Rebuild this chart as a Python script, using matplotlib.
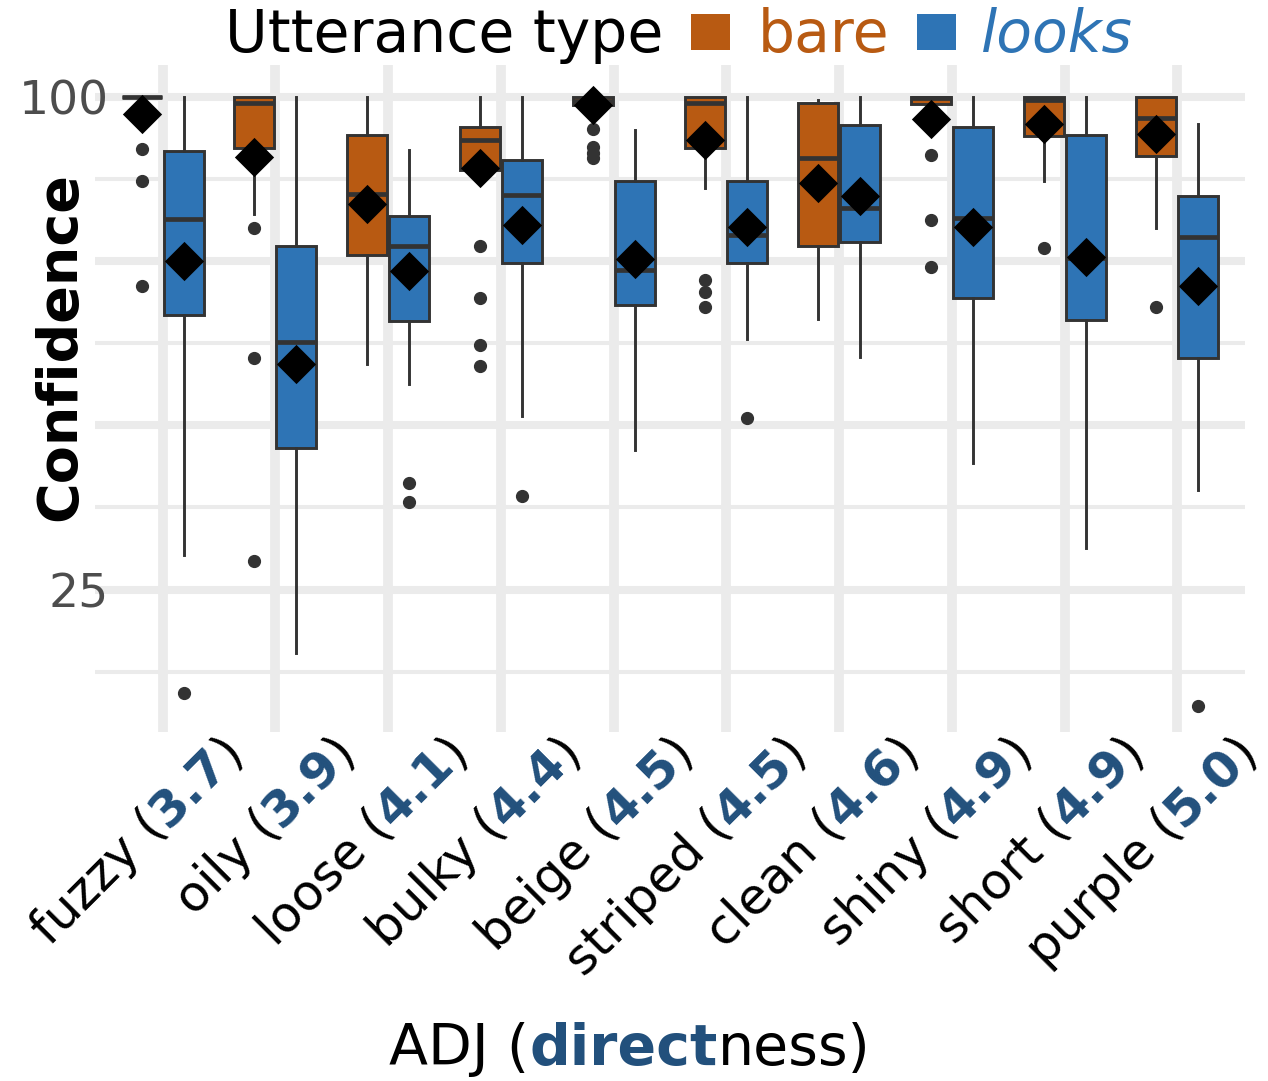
import matplotlib
matplotlib.use('Agg')
import matplotlib.pyplot as plt
from matplotlib.transforms import IdentityTransform
from matplotlib.patches import Rectangle
import numpy as np

# ---------------- data ----------------
categories = ['fuzzy', 'oily', 'loose', 'bulky', 'beige', 'striped', 'clean', 'shiny', 'short', 'purple']
directness = ['3.7', '3.9', '4.1', '4.4', '4.5', '4.5', '4.6', '4.9', '4.9', '5.0']

bare_whislo = [100, 82.2, 59.3, 88.9, 98.8, 86.1, 66.2, 98.9, 87.2, 80.0]
bare_q1     = [100, 92.2, 75.9, 88.9, 98.8, 92.2, 77.3, 98.9, 94.1, 91.0]
bare_med    = [100, 99.1, 85.2, 93.4, 99.4, 99.1, 90.7, 99.8, 99.5, 96.8]
bare_q3     = [100, 100, 94.2, 95.4, 100, 100, 99.1, 100, 100, 100]
bare_whishi = [100, 100, 100, 100, 100, 100, 99.5, 100, 100, 100]
bare_mean   = [97.4, 90.9, 83.7, 89.2, 98.8, 93.4, 87.0, 96.6, 95.9, 94.4]
bare_fliers = [[92.1, 87.2, 71.2], [80.0, 60.2, 29.3], [], [77.3, 69.4, 62.2, 59.1],
               [95.1, 92.4, 91.5, 90.7], [72.1, 70.3, 68.1], [], [91.2, 81.3, 74.1],
               [77.1], [68.1]]

looks_whislo = [30.3, 15.4, 56.3, 51.4, 46.2, 63.1, 60.4, 44.2, 31.3, 40.2]
looks_q1     = [66.8, 46.6, 65.9, 74.7, 68.3, 74.8, 77.9, 69.4, 66.0, 60.2]
looks_med    = [81.4, 62.7, 77.3, 85.1, 73.6, 79.0, 83.1, 81.6, 75.5, 78.7]
looks_q3     = [91.8, 77.4, 81.9, 90.4, 87.3, 87.3, 95.7, 95.4, 94.2, 84.9]
looks_whishi = [100, 100, 91.9, 100, 95.0, 100, 100, 100, 100, 95.9]
looks_mean   = [75.0, 59.3, 73.5, 80.6, 75.3, 80.2, 84.9, 80.2, 75.6, 71.2]
looks_fliers = [[9.3], [], [41.3, 38.3], [39.3], [], [51.2], [], [], [], [7.2]]

# ---------------- style ----------------
W, H, DPI = 1268, 1081, 100
BARE_C = '#B85A12'
LOOKS_C = '#2E74B5'
DIR_C = '#22507C'
EDGE_C = '#333333'
GRID_C = '#EBEBEB'
FONT = ['DejaVu Sans']
plt.rcParams['font.family'] = FONT

fig = plt.figure(figsize=(W / DPI, H / DPI), dpi=DPI)
fig.patch.set_facecolor('white')
L, R, T, B = 95, 1245, 65, 732
ax = fig.add_axes([L / W, 1 - B / H, (R - L) / W, (B - T) / H])
ax.set_facecolor('white')
ax.set_xlim(0.4, 10.6)
ax.set_ylim(3.3, 104.9)

ax.set_yticks([25, 50, 75, 100])
ax.set_yticks([12.5, 37.5, 62.5, 87.5], minor=True)
ax.set_yticklabels(['25', '', '', '100'])
ax.set_xticks(np.arange(1, 11))
ax.set_xticklabels([''] * 10)
ax.grid(which='major', axis='y', color=GRID_C, lw=5.8)
ax.grid(which='minor', axis='y', color=GRID_C, lw=2.9)
ax.grid(which='major', axis='x', color=GRID_C, lw=7.0)
ax.set_axisbelow(True)
for s in ax.spines.values():
    s.set_visible(False)
ax.tick_params(which='both', length=0)
ax.tick_params(axis='y', labelsize=34, labelcolor='#4D4D4D', pad=-10)

pos = np.arange(1, 11)
off = 0.186
bw = 0.355

def make_stats(wlo, q1, med, q3, whi, fl):
    return [dict(whislo=a, q1=b, med=c, q3=d, whishi=e, fliers=f)
            for a, b, c, d, e, f in zip(wlo, q1, med, q3, whi, fl)]

common = dict(widths=bw, patch_artist=True, showcaps=False, manage_ticks=False,
              whiskerprops=dict(color=EDGE_C, lw=2.1),
              medianprops=dict(color=EDGE_C, lw=3.4, solid_capstyle='butt'),
              flierprops=dict(marker='o', markersize=8.5, markerfacecolor=EDGE_C,
                              markeredgecolor=EDGE_C))
ax.bxp(make_stats(bare_whislo, bare_q1, bare_med, bare_q3, bare_whishi, bare_fliers),
       positions=pos - off, boxprops=dict(facecolor=BARE_C, edgecolor=EDGE_C, lw=2.1), **common)
ax.bxp(make_stats(looks_whislo, looks_q1, looks_med, looks_q3, looks_whishi, looks_fliers),
       positions=pos + off, boxprops=dict(facecolor=LOOKS_C, edgecolor=EDGE_C, lw=2.1), **common)
ax.scatter(pos - off, bare_mean, marker='D', s=400, color='black', zorder=6, linewidths=0)
ax.scatter(pos + off, looks_mean, marker='D', s=400, color='black', zorder=6, linewidths=0)

# ---------------- text helpers ----------------
fig.canvas.draw()
renderer = fig.canvas.get_renderer()

def text_width(s, **kw):
    t = fig.text(0, 0, s + '|', **kw)
    w1 = t.get_window_extent(renderer).width
    t.set_text('|')
    w2 = t.get_window_extent(renderer).width
    t.remove()
    return w1 - w2

def pieces_right(pieces, x, y, rot):
    c, s = np.cos(np.radians(rot)), np.sin(np.radians(rot))
    d = 0.0
    for txt, kw in reversed(pieces):
        fig.text(x - d * c, y - d * s, txt, transform=IdentityTransform(), rotation=rot,
                 rotation_mode='anchor', ha='right', va='baseline', **kw)
        d += text_width(txt, **kw)

def pieces_left(pieces, x, y):
    d = 0.0
    for txt, kw in pieces:
        fig.text(x + d, y, txt, transform=IdentityTransform(), ha='left', va='baseline', **kw)
        d += text_width(txt, **kw)
    return d

def pieces_total(pieces):
    return sum(text_width(t, **kw) for t, kw in pieces)

# x tick labels
TK = 36
for i, (cat, dv) in enumerate(zip(categories, directness)):
    xc = ax.transData.transform((pos[i], 0))[0]
    pieces = [(cat + ' (', dict(fontsize=TK, color='black')),
              (dv, dict(fontsize=TK, color=DIR_C, fontweight='bold')),
              (')', dict(fontsize=TK, color='black'))]
    pieces_right(pieces, xc + 82, H - 753, 45)

# x axis title
XT = 41
xt_pieces = [('ADJ (', dict(fontsize=XT, color='black')),
             ('direct', dict(fontsize=XT, color=DIR_C, fontweight='bold')),
             ('ness)', dict(fontsize=XT, color='black'))]
tw = pieces_total(xt_pieces)
pieces_left(xt_pieces, 630 - tw / 2, H - 1065)

# y axis title
fig.text(60, H - 347, 'Confidence', transform=IdentityTransform(), rotation=90,
         ha='center', va='center', fontsize=40, fontweight='bold', color='black')

# legend
LG = 42
y_base = H - 52
x0 = 225
w = pieces_left([('Utterance type', dict(fontsize=LG, color='black'))], x0, y_base)
xs = x0 + w + 28
fig.add_artist(Rectangle((xs, H - 50), 39, 36, transform=IdentityTransform(),
                         facecolor=BARE_C, edgecolor='none'))
xs += 39 + 27
w = pieces_left([('bare', dict(fontsize=LG, color=BARE_C))], xs, y_base)
xs += w + 28
fig.add_artist(Rectangle((xs, H - 50), 39, 36, transform=IdentityTransform(),
                         facecolor=LOOKS_C, edgecolor='none'))
xs += 39 + 25
pieces_left([('looks', dict(fontsize=LG, color=LOOKS_C, fontstyle='italic'))], xs, y_base)

fig.savefig('out.png', dpi=DPI, facecolor='white')
